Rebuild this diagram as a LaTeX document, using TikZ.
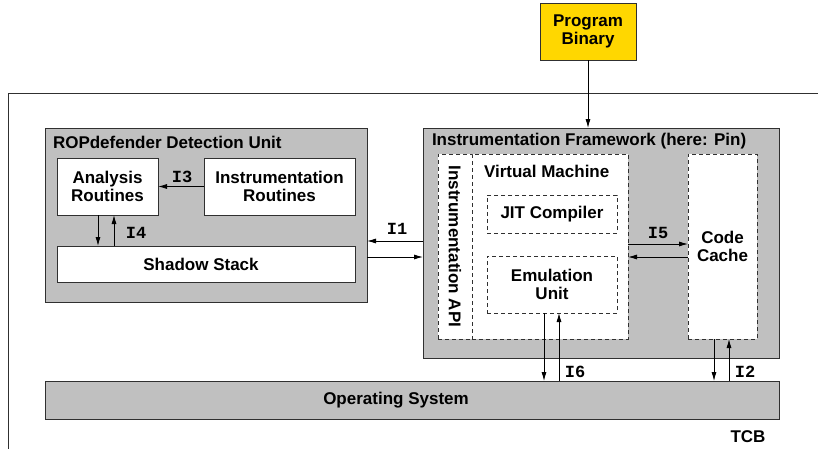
\documentclass[tikz,border=0pt]{standalone}
\usepackage{fontspec}
\setmainfont{Liberation Sans}
\newfontfamily\labmono{Liberation Mono}
\usetikzlibrary{arrows.meta}
\definecolor{gfill}{HTML}{C0C0C0}
\definecolor{pbgold}{HTML}{FFD700}
\definecolor{lnc}{HTML}{303030}
\begin{document}
\begin{tikzpicture}[x=1pt,y=-1pt,
  font=\fontsize{17}{18.5}\selectfont\bfseries,
  every node/.style={inner sep=0pt, outer sep=0pt},
  gbox/.style={draw=lnc, line width=0.8pt, fill=gfill, anchor=north west},
  wbox/.style={draw=lnc, line width=0.8pt, fill=white, anchor=north west, align=center},
  dbox/.style={draw=lnc, line width=0.8pt, fill=white, anchor=north west, align=center, dash pattern=on 4pt off 3pt},
  ybox/.style={draw=lnc, line width=0.8pt, fill=pbgold, anchor=north west, align=center},
  title/.style={anchor=west},
  lab/.style={font=\fontsize{17}{18.5}\selectfont\labmono\bfseries},
  arr/.style={draw=black, line width=0.8pt, -{Latex[length=9pt,width=5pt]}}]
\useasboundingbox (0,0) rectangle (818,448);
% TCB boundary
\draw[lnc, line width=0.8pt] (8,449) -- (8,93) -- (819,93);
\node (tcb) at (748,437) {TCB};
% Program binary
\node[ybox, minimum width=96pt, minimum height=57pt] (pb) at (540,3) {Program\\Binary};
% ROPdefender detection unit
\node[gbox, minimum width=322pt, minimum height=174pt] (rop) at (45,128) {};
\node[title] (roptitle) at (53,142) {ROPdefender Detection Unit};
\node[wbox, minimum width=101pt, minimum height=57pt] (ana) at (57,158) {Analysis\\Routines};
\node[wbox, minimum width=151pt, minimum height=57pt] (ir) at (204,158) {Instrumentation\\Routines};
\node[wbox, minimum width=298pt, minimum height=36pt] (ss) at (57,246) {};
\node (sstext) at (201,264) {Shadow Stack};
% Instrumentation framework
\node[gbox, minimum width=356pt, minimum height=230pt] (ifw) at (423,128) {};
\node[title] (ifwtitle) at (432,141) {Instrumentation Framework (here: Pin)};
\node[dbox, minimum width=34pt, minimum height=185pt] (api) at (438,154) {};
\node[rotate=-90] (apitext) at (api.center) {Instrumentation API};
\node[dbox, minimum width=156pt, minimum height=185pt] (vm) at (472,154) {};
\node[title] (vmtitle) at (484,171) {Virtual Machine};
\node[dbox, minimum width=130pt, minimum height=38pt] (jit) at (487,195) {JIT Compiler};
\node[dbox, minimum width=130pt, minimum height=57pt] (emu) at (487,256) {Emulation\\Unit};
\node[dbox, minimum width=69pt, minimum height=185pt] (cc) at (688,154) {Code\\Cache};
% Operating system
\node[gbox, minimum width=734pt, minimum height=38pt] (os) at (45,381) {};
\node (ostext) at (396,400) {Operating System};
% connectors
\draw[arr] (pb.south) -- (pb.south |- ifw.north);
\draw[arr] (ir.west) -- (ana.east);
\node[lab] (l3) at (182,177) {I3};
\draw[arr] ([xshift=-9.5pt]ana.south) -- ([xshift=-9.5pt]ana.south |- ss.north);
\draw[arr] ([xshift=6.5pt]ana.south |- ss.north) -- ([xshift=6.5pt]ana.south);
\node[lab] (l4) at (136,233) {I4};
\draw[arr] (ifw.west |- 0,241) -- (rop.east |- 0,241);
\draw[arr] (rop.east |- 0,257) -- (ifw.west |- 0,257);
\node[lab] (l1) at (397,229) {I1};
\draw[arr] (vm.east |- 0,244) -- (cc.west |- 0,244);
\draw[arr] (cc.west |- 0,257) -- (vm.east |- 0,257);
\node[lab] (l5) at (658,233) {I5};
\draw[arr] ([xshift=-8pt]emu.south) -- ([xshift=-8pt]emu.south |- os.north);
\draw[arr] ([xshift=7pt]emu.south |- os.north) -- ([xshift=7pt]emu.south);
\node[lab] (l6) at (575,372) {I6};
\draw[arr] ([xshift=-8.5pt]cc.south) -- ([xshift=-8.5pt]cc.south |- os.north);
\draw[arr] ([xshift=6.5pt]cc.south |- os.north) -- ([xshift=6.5pt]cc.south);
\node[lab] (l2) at (745,372) {I2};
\end{tikzpicture}
\end{document}
